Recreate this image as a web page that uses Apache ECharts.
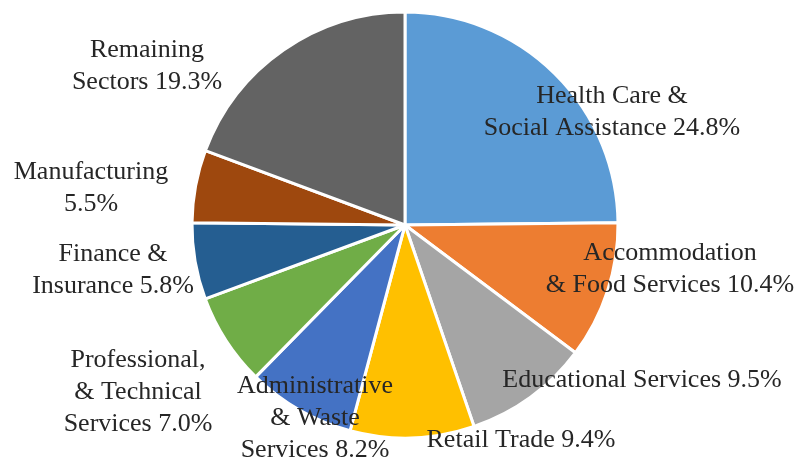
<!DOCTYPE html>
<html>
<head>
<meta charset="utf-8">
<script src="https://cdn.jsdelivr.net/npm/echarts@6/dist/echarts.min.js"></script>
<style>
  html, body { margin: 0; padding: 0; background: #fff; }
  #chart { width: 807px; height: 459px; }
</style>
</head>
<body>
<div id="chart"></div>
<script>
// sectors, clockwise from 12 o'clock
const sectors = [
  "Health Care &\nSocial Assistance",
  "Accommodation\n& Food Services",
  "Educational Services",
  "Retail Trade",
  "Administrative\n& Waste\nServices",
  "Professional,\n& Technical\nServices",
  "Finance &\nInsurance",
  "Manufacturing\n",
  "Remaining\nSectors"
];
const shares = [24.8, 10.4, 9.5, 9.4, 8.2, 7.0, 5.8, 5.5, 19.3];
const colors = ["#5B9BD5", "#ED7D31", "#A5A5A5", "#FFC000", "#4472C4",
                "#70AD47", "#255E91", "#9E480E", "#636363"];
// where each label block sits (centre, px)
const labelX = [612, 670, 642, 521, 315, 138, 113, 91, 147];
const labelY = [112, 269, 380, 440, 418, 392, 270, 188, 66];

let chart = echarts.init(document.getElementById("chart"));
let option = {
  animation: false,
  series: [
    {
      type: "pie",
      center: [405, 225],
      radius: [0, 213],
      startAngle: 90,
      clockwise: true,
      avoidLabelOverlap: false,
      itemStyle: {
        borderColor: "#fff",
        borderWidth: 3
      },
      label: {
        show: true,
        position: "inside",
        fontFamily: "Liberation Serif",
        fontSize: 26,
        lineHeight: 32,
        color: "#262626",
        align: "center",
        formatter: function (p) {
          let txt = p.name;
          if (txt.endsWith("\n")) return txt + p.value.toFixed(1) + "%";
          return txt + " " + p.value.toFixed(1) + "%";
        }
      },
      labelLine: { show: false },
      labelLayout: function (p) {
        return {
          x: labelX[p.dataIndex],
          y: labelY[p.dataIndex],
          align: "center",
          verticalAlign: "middle"
        };
      },
      data: sectors.map((s, i) => ({
        name: s,
        value: shares[i],
        itemStyle: { color: colors[i] }
      }))
    }
  ]
};
chart.setOption(option);
</script>
</body>
</html>
